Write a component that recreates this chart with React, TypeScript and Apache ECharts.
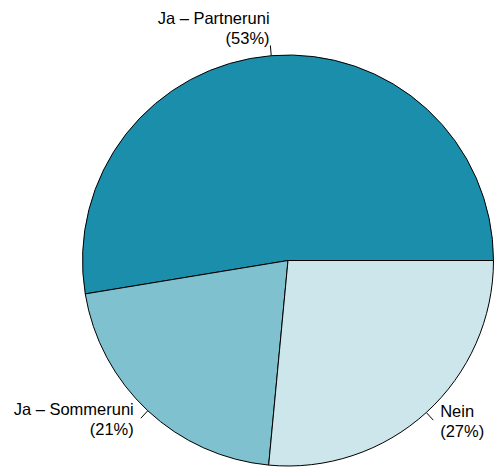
import React, { useEffect, useRef } from "react";
import * as echarts from "echarts";

const categories = ["Ja – Partneruni", "Ja – Sommeruni", "Nein"];
const values = [52.6, 20.9, 26.5];
const percentLabels = ["53%", "21%", "27%"];
const colors = ["#1a8eaa", "#7fc1cf", "#cce6eb"];

const CX = 288;
const CY = 260.5;
const R = 205.5;

export default function App() {
  const ref = useRef<HTMLDivElement>(null);
  useEffect(() => {
    if (!ref.current) return;
    const chart = echarts.init(ref.current, undefined, { renderer: "svg" });
    const total = values.reduce((a, b) => a + b, 0);
    const mids: number[] = [];
    let cum = 0;
    values.forEach((v) => {
      mids.push(((cum + v / 2) / total) * Math.PI * 2);
      cum += v;
    });
    chart.setOption({
      animation: false,
      backgroundColor: "#ffffff",
      series: [
        {
          type: "pie",
          center: [CX, CY],
          radius: [0, R],
          startAngle: 0,
          clockwise: false,
          avoidLabelOverlap: false,
          itemStyle: { borderColor: "#000000", borderWidth: 1 },
          emphasis: { disabled: true },
          label: {
            show: true,
            position: "outside",
            fontFamily: "Liberation Sans, Arial, sans-serif",
            fontSize: 16.5,
            lineHeight: 20,
            color: "#000000",
            formatter: (p: any) => `${p.name}\n(${percentLabels[p.dataIndex]})`,
          },
          labelLine: {
            show: true,
            length: 10,
            length2: 0,
            lineStyle: { color: "#000000", width: 1 },
          },
          labelLayout: (params: any) => {
            const a = mids[params.dataIndex];
            const c = Math.cos(a);
            const s = Math.sin(a);
            return {
              x: CX + 1.1 * R * c,
              y: CY - 1.1 * R * s - 7,
              align: c < 0 ? "right" : "left",
              verticalAlign: "middle",
              labelLinePoints: [
                [CX + R * c, CY - R * s],
                [CX + 1.05 * R * c, CY - 1.05 * R * s],
                [CX + 1.05 * R * c, CY - 1.05 * R * s],
              ],
            };
          },
          data: categories.map((name, i) => ({
            name,
            value: values[i],
            itemStyle: { color: colors[i] },
          })),
        },
      ],
    });
    return () => chart.dispose();
  }, []);
  return (
    <div
      ref={ref}
      style={{ position: "fixed", left: 0, top: 0, width: 494, height: 468 }}
    />
  );
}
